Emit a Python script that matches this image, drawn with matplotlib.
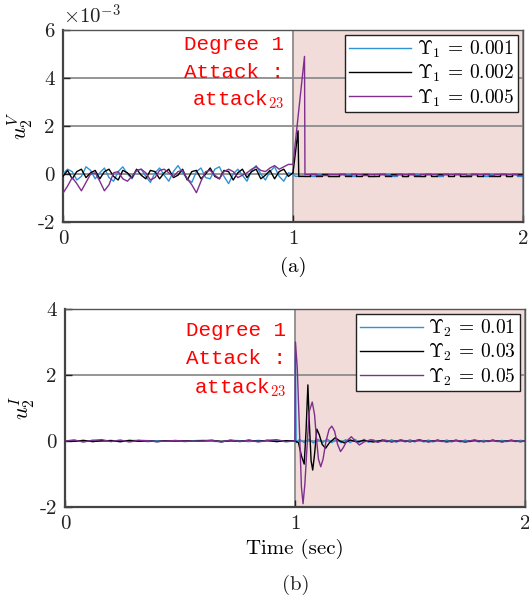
import numpy as np
import matplotlib
matplotlib.use("Agg")
import matplotlib.pyplot as plt
from matplotlib.ticker import FixedLocator, FixedFormatter

plt.rcParams['font.family'] = ['cmr10', 'DejaVu Serif']
plt.rcParams['mathtext.fontset'] = 'cm'
plt.rcParams['axes.formatter.use_mathtext'] = True

# ---------------- data: panel (a), values in units of 1e-3 ----------------
t_pre_a = np.linspace(0.0, 1.0, 51)
blue_pre_a = [0.00, 0.20, 0.10, -0.25, -0.10, 0.30, 0.15, -0.20, 0.05, 0.25,
              -0.15, -0.30, 0.10, 0.30, 0.00, -0.20, 0.15, 0.20, -0.10, -0.35,
              0.05, 0.25, -0.05, -0.30, 0.10, 0.35, 0.05, -0.20, -0.35, 0.10,
              0.25, -0.15, -0.20, 0.20, 0.30, -0.10, -0.40, 0.00, 0.20, -0.05,
              -0.30, 0.15, 0.35, 0.00, -0.25, 0.10, 0.30, -0.10, -0.30, 0.05,
              0.00]
black_pre_a = [-0.10, 0.15, -0.20, 0.10, 0.20, -0.15, 0.05, 0.15, -0.20, 0.10,
               0.20, -0.10, -0.25, 0.15, 0.05, -0.15, 0.20, -0.05, -0.20, 0.15,
               0.10, -0.20, 0.05, 0.20, -0.15, -0.05, 0.20, -0.25, 0.10, 0.15,
               -0.20, 0.00, 0.25, -0.10, -0.20, 0.15, 0.10, -0.25, 0.05, 0.20,
               -0.15, 0.10, 0.20, -0.20, -0.05, 0.15, -0.20, 0.10, 0.20, -0.10,
               0.05]
purple_pre_a = [-0.80, -0.50, -0.15, -0.40, -0.70, -0.35, 0.00, 0.05, -0.30, -0.70,
                -0.45, 0.05, 0.10, -0.20, -0.30, -0.10, 0.15, 0.20, 0.05, -0.25,
                -0.15, 0.15, 0.20, 0.05, -0.10, 0.10, 0.15, -0.20, -0.45, -0.78,
                -0.30, 0.10, 0.15, -0.05, -0.20, 0.10, 0.20, 0.10, -0.15, -0.05,
                0.05, 0.20, 0.30, 0.15, 0.10, 0.25, 0.35, 0.20, 0.30, 0.40,
                0.40]
blue_spike_t = [1.0, 1.01, 1.05]
blue_spike_v = [0.00, -0.10, -0.10]
black_spike_t = [1.0, 1.022, 1.025, 1.05]
black_spike_v = [0.05, 1.80, -0.10, -0.10]
purple_spike_t = [1.0, 1.05, 1.052]
purple_spike_v = [0.40, 4.90, 0.00]
t_post_a = np.linspace(1.05, 2.0, 39)
blue_post_a = [0, -0.1, 0, 0, -0.1, -0.1, 0, 0, -0.1, 0,
               0, -0.1, 0, 0, 0, -0.1, 0, -0.1, 0, 0,
               -0.1, 0, 0, -0.1, 0, 0, 0, -0.1, -0.1, 0,
               0, -0.1, 0, 0, 0, -0.1, 0, -0.1, 0]
black_post_a = [-0.1, 0, -0.1, 0, -0.1, -0.1, 0, -0.1, 0, -0.1,
                0, -0.1, -0.1, 0, -0.1, 0, 0, -0.1, 0, -0.1,
                -0.1, 0, -0.1, 0, 0, -0.1, 0, -0.1, -0.1, 0,
                -0.1, 0, -0.1, -0.1, 0, -0.1, 0, 0, -0.1]
purple_post_a = [0, 0, -0.05, -0.05, 0, 0, 0, -0.05, 0, 0,
                 -0.05, 0, 0, 0, -0.05, -0.05, 0, 0, 0, -0.05,
                 0, 0, 0, -0.05, 0, 0, 0, 0, -0.05, 0,
                 0, 0, -0.05, 0, 0, 0, 0, -0.05, 0]
labels_a = [r'$\Upsilon_1$ = 0.001', r'$\Upsilon_1$ = 0.002', r'$\Upsilon_1$ = 0.005']

# ---------------- data: panel (b) ----------------
t_pre_b = np.linspace(0.0, 1.0, 26)
blue_pre_b = [0.00, 0.02, -0.02, 0.02, -0.01, 0.02, -0.02, 0.01, 0.02, -0.02,
              0.01, -0.01, 0.02, -0.02, 0.01, 0.02, -0.01, -0.02, 0.02, 0.01,
              -0.02, 0.02, -0.01, 0.01, -0.02, 0.00]
black_pre_b = [0.00, -0.01, 0.02, -0.02, 0.01, 0.01, -0.02, 0.02, -0.01, 0.01,
               -0.02, 0.01, 0.00, 0.01, -0.01, 0.01, 0.02, -0.02, 0.01, -0.01,
               0.02, -0.01, 0.02, -0.02, 0.01, 0.00]
purple_pre_b = [0.00, 0.03, -0.03, 0.02, 0.04, -0.02, 0.03, -0.03, 0.02, 0.01,
                -0.02, 0.00, 0.01, 0.00, -0.01, 0.00, 0.02, -0.03, 0.03, -0.02,
                0.03, -0.03, 0.02, 0.04, -0.02, 0.00]
blue_post_t = [1.0, 1.002, 1.005, 1.02, 1.04, 1.06, 1.08, 1.10, 1.12, 1.14, 1.16,
               1.18, 1.20, 1.22, 1.24, 1.26, 1.28, 1.30, 1.32, 1.34, 1.36,
               1.38, 1.40, 1.42, 1.44, 1.46, 1.48, 1.50, 1.52, 1.54, 1.56,
               1.58, 1.60, 1.62, 1.64, 1.66, 1.68, 1.70, 1.72, 1.74, 1.76,
               1.78, 1.80, 1.82, 1.84, 1.86, 1.88, 1.90, 1.92, 1.94, 1.96,
               1.98, 2.00]
blue_post_v = [0.00, 2.60, -0.05, 0.05, -0.05, 0.05, -0.06, 0.05, -0.05, 0.06, -0.05,
               0.05, -0.05, 0.04, -0.05, 0.05, -0.04, 0.05, -0.04, 0.04, -0.04,
               0.04, -0.03, 0.04, -0.04, 0.03, -0.03, 0.04, -0.03, 0.03, -0.03,
               0.03, -0.03, 0.03, -0.02, 0.03, -0.03, 0.02, -0.03, 0.03, -0.02,
               0.02, -0.03, 0.02, -0.02, 0.03, -0.02, 0.02, -0.02, 0.02, -0.02,
               0.02, 0.00]
black_post_t = [1.0, 1.015, 1.028, 1.040, 1.048, 1.056, 1.062, 1.070, 1.077, 1.085,
                1.095, 1.105, 1.118, 1.133, 1.150, 1.175, 1.195, 1.215, 1.24, 1.27,
                1.30, 1.34, 1.38, 1.42, 1.46, 1.50, 1.54, 1.58, 1.62, 1.66,
                1.70, 1.74, 1.78, 1.82, 1.86, 1.90, 1.94, 1.98, 2.00]
black_post_v = [0.00, -0.05, -0.45, -0.70, 0.30, 1.70, 0.60, -0.60, -0.88, -0.40,
                0.36, 0.20, -0.10, -0.22, -0.05, 0.10, 0.00, -0.06, 0.03, -0.03,
                0.02, -0.03, 0.02, -0.02, 0.02, -0.02, 0.03, -0.02, 0.02, -0.02,
                0.02, -0.03, 0.02, -0.02, 0.02, -0.02, 0.02, -0.02, 0.00]
purple_post_t = [1.0, 1.002, 1.010, 1.020, 1.028, 1.035, 1.043, 1.052, 1.062, 1.075,
                 1.085, 1.093, 1.102, 1.112, 1.122, 1.135, 1.148, 1.160, 1.172, 1.185,
                 1.198, 1.210, 1.225, 1.245, 1.262, 1.280, 1.30, 1.33, 1.36, 1.39,
                 1.42, 1.46, 1.50, 1.54, 1.58, 1.62, 1.66, 1.70, 1.74, 1.78,
                 1.82, 1.86, 1.90, 1.94, 1.98, 2.00]
purple_post_v = [0.00, 3.00, 2.20, 0.20, -1.40, -1.90, -1.30, -0.20, 0.90, 1.18,
                 0.80, 0.10, -0.55, -0.78, -0.55, 0.00, 0.35, 0.45, 0.30, -0.10,
                 -0.32, -0.20, 0.00, 0.13, 0.00, -0.12, -0.03, 0.04, -0.04, 0.03,
                 -0.03, 0.03, -0.02, 0.03, -0.03, 0.02, -0.03, 0.02, -0.02, 0.03,
                 -0.02, 0.02, -0.03, 0.02, -0.02, 0.00]
labels_b = [r'$\Upsilon_2$ = 0.01', r'$\Upsilon_2$ = 0.03', r'$\Upsilon_2$ = 0.05']

xticks = [0, 1, 2]
xticklabels = ['0', '1', '2']
yticks_a = [-2, 0, 2, 4, 6]
yticklabels_a = ['-2', '0', '2', '4', '6']
yticks_b = [-2, 0, 2, 4]
yticklabels_b = ['-2', '0', '2', '4']

# ---------------- style ----------------
C_BLUE = '#2f93d6'
C_BLACK = '#000000'
C_PURPLE = '#7E2F8E'
SHADE = '#f1dcda'
RED = '#ff0000'
LW = 1.0
RED_FS = 15

fig = plt.figure(figsize=(5.29, 6.03), dpi=100)
ax1 = fig.add_axes([63/529, 1-222/603, 460/529, 192/603])
ax2 = fig.add_axes([65/529, 1-507/603, 460/529, 198/603])


def style_axes(ax, yticks, ylabels, ylim):
    ax.set_xlim(0, 2)
    ax.set_ylim(*ylim)
    ax.axvspan(1, 2, color=SHADE, zorder=0, lw=0)
    ax.xaxis.set_major_locator(FixedLocator(xticks))
    ax.xaxis.set_major_formatter(FixedFormatter(xticklabels))
    ax.yaxis.set_major_locator(FixedLocator(yticks))
    ax.yaxis.set_major_formatter(FixedFormatter(ylabels))
    ax.grid(True, color='#8c8c8c', lw=1.3, zorder=1)
    ax.tick_params(direction='in', length=5, width=1.0, labelsize=15,
                   colors='#222222', top=False, right=False, pad=6)
    for s in ['left', 'bottom']:
        ax.spines[s].set_color('#444444')
        ax.spines[s].set_linewidth(1.6)
    for s in ['top', 'right']:
        ax.spines[s].set_color('#555555')
        ax.spines[s].set_linewidth(1.0)
    ax.set_axisbelow(True)


style_axes(ax1, yticks_a, yticklabels_a, (-2, 6))
style_axes(ax2, yticks_b, yticklabels_b, (-2, 4))

# panel (a)
h1, = ax1.plot(t_pre_a, blue_pre_a, color=C_BLUE, lw=LW, zorder=3)
ax1.plot(blue_spike_t, blue_spike_v, color=C_BLUE, lw=LW, zorder=3)
ax1.plot(t_post_a, blue_post_a, color=C_BLUE, lw=LW, drawstyle='steps-post', zorder=3)
h2, = ax1.plot(t_pre_a, black_pre_a, color=C_BLACK, lw=LW, zorder=4)
ax1.plot(black_spike_t, black_spike_v, color=C_BLACK, lw=LW, zorder=4)
ax1.plot(t_post_a, black_post_a, color=C_BLACK, lw=LW, drawstyle='steps-post', zorder=4)
h3, = ax1.plot(t_pre_a, purple_pre_a, color=C_PURPLE, lw=LW, zorder=5)
ax1.plot(purple_spike_t, purple_spike_v, color=C_PURPLE, lw=LW, zorder=5)
ax1.plot(t_post_a, purple_post_a, color=C_PURPLE, lw=LW, drawstyle='steps-post', zorder=5)
leg1 = ax1.legend([h1, h2, h3], labels_a, loc='upper right', fontsize=14,
                  frameon=True, fancybox=False, edgecolor='#222222',
                  framealpha=1, handlelength=3.2, handletextpad=0.3,
                  borderpad=0.2, labelspacing=0.15, borderaxespad=0.25)
leg1.get_frame().set_linewidth(1.0)
leg1.set_zorder(10)

ax1.set_ylabel(r'$u_2^V$', fontsize=16, labelpad=2)
ax1.set_xlabel('(a)', fontsize=15, labelpad=6)
ax1.text(0.0, 1.01, r'$\times10^{-3}$', transform=ax1.transAxes, fontsize=15,
         ha='left', va='bottom', color='#222222')
ax1.text(0.96, 5.4, 'Degree 1', color=RED, ha='right', va='center',
         fontsize=RED_FS, family='Liberation Mono', zorder=6)
ax1.text(0.96, 4.25, 'Attack :', color=RED, ha='right', va='center',
         fontsize=RED_FS, family='Liberation Mono', zorder=6)
ax1.text(0.96, 3.1, r'attack$_{23}$', color=RED, ha='right', va='center',
         fontsize=RED_FS, family='Liberation Mono', zorder=6)

# panel (b)
g1, = ax2.plot(t_pre_b, blue_pre_b, color=C_BLUE, lw=LW, zorder=3)
ax2.plot(blue_post_t, blue_post_v, color=C_BLUE, lw=LW, zorder=3)
g2, = ax2.plot(t_pre_b, black_pre_b, color=C_BLACK, lw=LW, zorder=4)
ax2.plot(black_post_t, black_post_v, color=C_BLACK, lw=LW, zorder=4)
g3, = ax2.plot(t_pre_b, purple_pre_b, color=C_PURPLE, lw=LW, zorder=5)
ax2.plot(purple_post_t, purple_post_v, color=C_PURPLE, lw=LW, zorder=5)
leg2 = ax2.legend([g1, g2, g3], labels_b, loc='upper right', fontsize=14,
                  frameon=True, fancybox=False, edgecolor='#222222',
                  framealpha=1, handlelength=3.2, handletextpad=0.3,
                  borderpad=0.2, labelspacing=0.15, borderaxespad=0.25)
leg2.get_frame().set_linewidth(1.0)
leg2.set_zorder(10)

ax2.set_ylabel(r'$u_2^I$', fontsize=16, labelpad=2)
ax2.set_xlabel('Time (sec)', fontsize=15, labelpad=4)
fig.text(296/529, 1-585/603, '(b)', fontsize=15, ha='center', va='center',
         color='#222222')
ax2.text(0.96, 3.35, 'Degree 1', color=RED, ha='right', va='center',
         fontsize=RED_FS, family='Liberation Mono', zorder=6)
ax2.text(0.96, 2.5, 'Attack :', color=RED, ha='right', va='center',
         fontsize=RED_FS, family='Liberation Mono', zorder=6)
ax2.text(0.96, 1.6, r'attack$_{23}$', color=RED, ha='right', va='center',
         fontsize=RED_FS, family='Liberation Mono', zorder=6)

fig.savefig('out.png', dpi=100)
